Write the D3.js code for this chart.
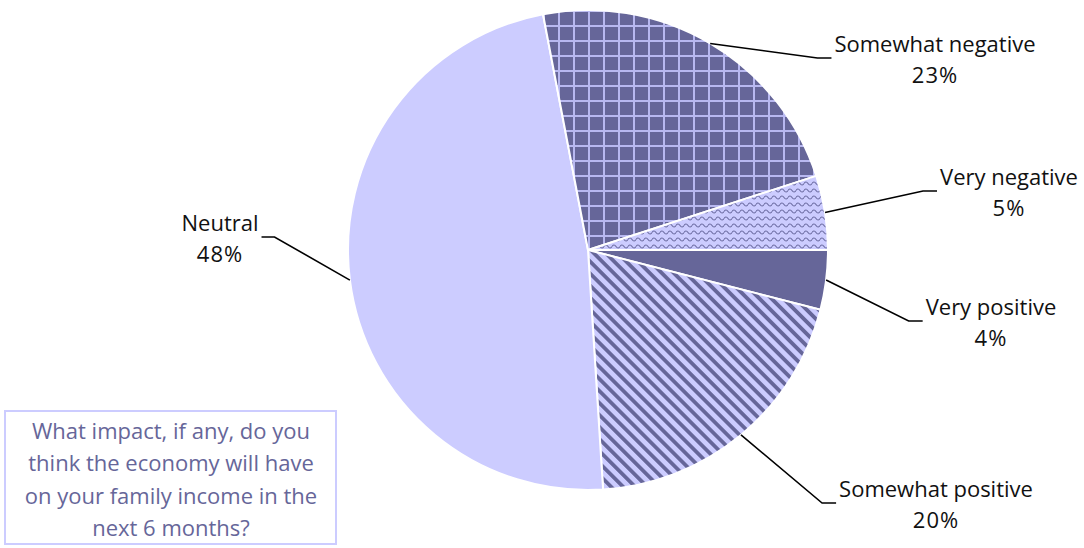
<!DOCTYPE html>
<html>
<head>
<meta charset="utf-8">
<script src="https://cdn.jsdelivr.net/npm/d3@7"></script>
<style>
  body { margin: 0; background: #fff; }
  text { font-family: "Open Sans", sans-serif; }
</style>
</head>
<body>
<div id="chart"></div>
<script>
// Width and height of chart
var width = 1084;
var height = 548;

// data, clockwise from 3 o'clock
var categories = ["Very positive", "Somewhat positive", "Neutral", "Somewhat negative", "Very negative"];
var values = [4, 20, 48, 23, 5];
var fills = ["#666699", "url(#stripes)", "#ccccff", "url(#grid)", "url(#waves)"];

// label anchor (text centre x, first baseline y)
var labelPos = [[991, 315], [936, 497], [220, 231], [935, 52], [1009, 185]];

var question = ["What impact, if any, do you", "think the economy will have",
  "on your family income in the", "next 6 months?"];

var cx = 588, cy = 250, radius = 240;

var svg = d3.select("#chart")
  .append("svg")
  .attr("width", width)
  .attr("height", height);

// fill patterns
var defs = svg.append("defs");

var grid = defs.append("pattern")
  .attr("id", "grid")
  .attr("patternUnits", "userSpaceOnUse")
  .attr("width", 15)
  .attr("height", 15);
grid.append("rect").attr("width", 15).attr("height", 15).attr("fill", "#666699");
grid.append("path")
  .attr("d", "M0,1H15M1,0V15")
  .attr("stroke", "#b8b8f0")
  .attr("stroke-width", 2);

var stripes = defs.append("pattern")
  .attr("id", "stripes")
  .attr("patternUnits", "userSpaceOnUse")
  .attr("width", 8.5)
  .attr("height", 8.5)
  .attr("patternTransform", "rotate(-45)");
stripes.append("rect").attr("width", 8.5).attr("height", 8.5).attr("fill", "#ccccff");
stripes.append("rect").attr("width", 3.8).attr("height", 8.5).attr("fill", "#666699");

var waves = defs.append("pattern")
  .attr("id", "waves")
  .attr("patternUnits", "userSpaceOnUse")
  .attr("width", 8)
  .attr("height", 7);
waves.append("rect").attr("width", 8).attr("height", 7).attr("fill", "#ccccff");
waves.append("path")
  .attr("d", "M0,3.5 Q2,0.5 4,3.5 Q6,6.5 8,3.5")
  .attr("fill", "none")
  .attr("stroke", "#6e6ea4")
  .attr("stroke-width", 1.2);

var pie = d3.pie()
  .sort(null)
  .value(function(d) { return d; })
  .startAngle(Math.PI / 2)
  .endAngle(Math.PI / 2 + 2 * Math.PI);

var arc = d3.arc()
  .innerRadius(0)
  .outerRadius(radius);

var arcs = pie(values);

var g = svg.append("g")
  .attr("transform", "translate(" + cx + "," + cy + ")");

g.selectAll("path.slice")
  .data(arcs)
  .enter()
  .append("path")
  .attr("class", "slice")
  .attr("d", arc)
  .attr("fill", function(d, i) { return fills[i]; })
  .attr("stroke", "#fff")
  .attr("stroke-width", 2)
  .attr("stroke-linejoin", "round");

// labels, then leader lines from slice middle to text
arcs.forEach(function(d, i) {
  var mid = (d.startAngle + d.endAngle) / 2;
  var x0 = cx + radius * Math.sin(mid);
  var y0 = cy - radius * Math.cos(mid);
  var lp = labelPos[i];
  var right = x0 > cx;

  var t = svg.append("text")
    .attr("x", lp[0])
    .attr("y", lp[1])
    .attr("text-anchor", "middle")
    .attr("font-size", 22)
    .attr("fill", "#111");
  var first = t.append("tspan").attr("x", lp[0]).text(categories[i]);
  t.append("tspan").attr("x", lp[0]).attr("dy", 31)
    .attr("letter-spacing", 1)
    .text(values[i] + "%");

  var tw = first.node().getComputedTextLength();
  var ex = right ? lp[0] - tw / 2 - 3 : lp[0] + tw / 2 + 3;
  var ey = lp[1] + 6;
  var hx = right ? ex - 14 : ex + 13;
  svg.append("path")
    .attr("d", "M" + x0 + "," + y0 + "L" + hx + "," + ey + "L" + ex + "," + ey)
    .attr("fill", "none")
    .attr("stroke", "#000")
    .attr("stroke-width", 1.6);
});

// question box
svg.append("rect")
  .attr("x", 5)
  .attr("y", 411)
  .attr("width", 331)
  .attr("height", 133)
  .attr("fill", "#fff")
  .attr("stroke", "#ccccff")
  .attr("stroke-width", 2);

svg.append("g")
  .selectAll("text")
  .data(question)
  .enter()
  .append("text")
  .attr("x", 171)
  .attr("y", function(d, i) { return 439 + i * 32.3; })
  .attr("text-anchor", "middle")
  .attr("font-size", 22)
  .attr("fill", "#666699")
  .text(function(d) { return d; });
</script>
</body>
</html>
